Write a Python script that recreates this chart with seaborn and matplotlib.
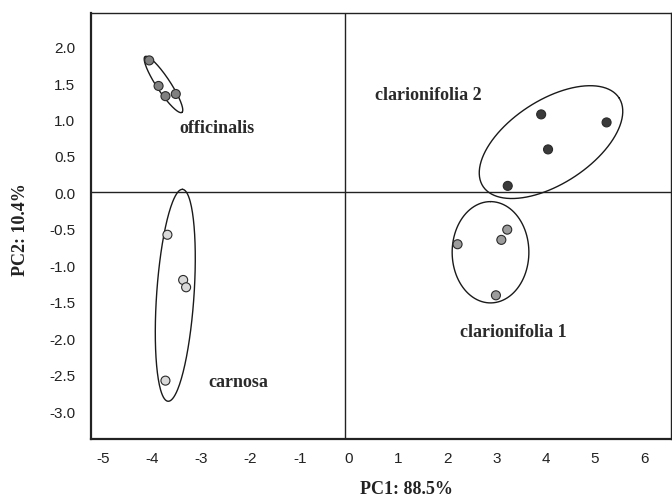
"""PCA score plot of four Salvia groups (PC1 vs PC2) with group ellipses."""

import matplotlib

matplotlib.use("Agg")
import matplotlib.pyplot as plt
import numpy as np
import pandas as pd
import seaborn as sns
from matplotlib.transforms import ScaledTranslation

# --- data --------------------------------------------------------------
groups = ["officinalis", "carnosa", "clarionifolia 2", "clarionifolia 1"]

officinalis_pc1 = [-3.98, -3.79, -3.65, -3.44]
officinalis_pc2 = [1.81, 1.46, 1.32, 1.35]

carnosa_pc1 = [-3.61, -3.29, -3.23, -3.65]
carnosa_pc2 = [-0.58, -1.20, -1.30, -2.58]

clarionifolia2_pc1 = [3.99, 5.32, 4.13, 3.31]
clarionifolia2_pc2 = [1.07, 0.96, 0.59, 0.09]

clarionifolia1_pc1 = [3.30, 3.18, 2.29, 3.07]
clarionifolia1_pc2 = [-0.51, -0.65, -0.71, -1.41]

x_ticks = [-5, -4, -3, -2, -1, 0, 1, 2, 3, 4, 5, 6]
y_ticks = [2.0, 1.5, 1.0, 0.5, 0.0, -0.5, -1.0, -1.5, -2.0, -2.5, -3.0]

x_label = "PC1: 88.5%"
y_label = "PC2: 10.4%"

# --- styling -----------------------------------------------------------
fills = {
    "officinalis": "#808080",
    "carnosa": "#d9d9d9",
    "clarionifolia 2": "#3a3a3a",
    "clarionifolia 1": "#9c9c9c",
}
# centre (pc1, pc2), semi-axes in pc1 units (visual), angle in degrees
ellipses = {
    "officinalis": ((-3.69, 1.48), 0.68, 0.14, -56.6),
    "carnosa": ((-3.45, -1.41), 2.16, 0.38, 86.1),
    "clarionifolia 2": ((4.19, 0.69), 1.65, 0.85, 33.0),
    "clarionifolia 1": ((2.96, -0.82), 1.03, 0.78, 90.0),
}
label_pos = {
    "officinalis": (-2.60, 0.89),
    "carnosa": (-2.16, -2.59),
    "clarionifolia 2": (1.69, 1.34),
    "clarionifolia 1": (3.42, -1.91),
}

df = pd.concat(
    [
        pd.DataFrame({"pc1": officinalis_pc1, "pc2": officinalis_pc2, "group": "officinalis"}),
        pd.DataFrame({"pc1": carnosa_pc1, "pc2": carnosa_pc2, "group": "carnosa"}),
        pd.DataFrame({"pc1": clarionifolia2_pc1, "pc2": clarionifolia2_pc2, "group": "clarionifolia 2"}),
        pd.DataFrame({"pc1": clarionifolia1_pc1, "pc2": clarionifolia1_pc2, "group": "clarionifolia 1"}),
    ],
    ignore_index=True,
)

sns.set_theme(style="white")
plt.rcParams["font.family"] = ["Liberation Sans", "DejaVu Sans"]

fig = plt.figure(figsize=(6.72, 5.02), dpi=100)
ax = fig.add_axes([90.7 / 672, 62 / 502, 580.3 / 672, 426 / 502])

xlim = (-5.17, 6.63)
ylim = (-3.38, 2.46)
ax.set_xlim(*xlim)
ax.set_ylim(*ylim)

# y-units -> x-units so ellipse angles are visual
aspect = (426 / (ylim[1] - ylim[0])) / (580.3 / (xlim[1] - xlim[0]))

ax.axhline(0, color="#222222", lw=1.0, zorder=1)
ax.axvline(0, color="#222222", lw=1.0, zorder=1)

t = np.linspace(0, 2 * np.pi, 200)
for name, ((cx, cy), a, b, ang) in ellipses.items():
    th = np.deg2rad(ang)
    u = cx + a * np.cos(th) * np.cos(t) - b * np.sin(th) * np.sin(t)
    v = cy * aspect + a * np.sin(th) * np.cos(t) + b * np.cos(th) * np.sin(t)
    ax.plot(u, v / aspect, color="#1a1a1a", lw=1.0, zorder=2)

sns.scatterplot(
    data=df,
    x="pc1",
    y="pc2",
    hue="group",
    hue_order=groups,
    palette=fills,
    s=42,
    edgecolor="#2a2a2a",
    linewidth=0.8,
    legend=False,
    zorder=3,
    ax=ax,
)

for name in groups:
    x, y = label_pos[name]
    ax.text(
        x, y, name, ha="center", va="center", fontsize=13,
        fontweight="bold", family=["Liberation Serif"], color="#2a2a2a",
    )

ax.set_xticks(x_ticks)
ax.set_xticklabels([str(v) for v in x_ticks])
ax.set_yticks(y_ticks)
ax.set_yticklabels([f"{v:.1f}" for v in y_ticks])
ax.tick_params(axis="x", direction="inout", length=5, width=0.8, pad=6,
               labelsize=11, colors="#222222")
ax.tick_params(axis="y", direction="out", length=2, width=0.6, pad=9,
               labelsize=11, colors="#222222")
shift = ScaledTranslation(4 / 100, 0, fig.dpi_scale_trans)
for lab in ax.get_xticklabels():
    lab.set_transform(lab.get_transform() + shift)

for side in ["left", "bottom"]:
    ax.spines[side].set_linewidth(1.6)
for side in ["top", "right"]:
    ax.spines[side].set_linewidth(1.0)
for sp in ax.spines.values():
    sp.set_color("#222222")

ax.set_xlabel(x_label, fontsize=13, fontweight="bold", family=["Liberation Serif"], color="#222222")
ax.set_ylabel(y_label, fontsize=13, fontweight="bold", family=["Liberation Serif"], color="#222222")
ax.xaxis.set_label_coords((407 - 90.7) / 580.3, (440 - 490) / 426)
ax.yaxis.set_label_coords((20.7 - 90.7) / 580.3, (440 - 229.5) / 426)
ax.xaxis.label.set_va("center")
ax.yaxis.label.set_va("center")

fig.savefig("out.png", dpi=100)
